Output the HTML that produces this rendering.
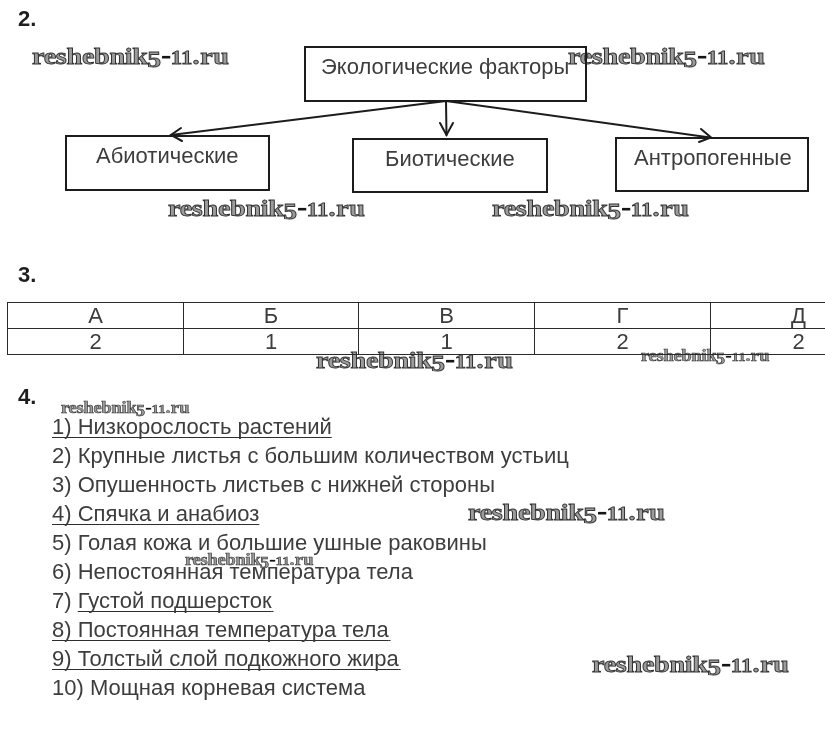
<!DOCTYPE html>
<html><head><meta charset="utf-8">
<style>
html,body{margin:0;padding:0;background:#fff;}
body{filter:grayscale(1);}
body{width:825px;height:748px;position:relative;overflow:hidden;font-family:"Liberation Sans",sans-serif;color:#3d3d3d;}
.a{position:absolute;white-space:nowrap;}
.lbl{font-weight:bold;font-size:22px;line-height:24px;color:#1e1e1e;}
.box{position:absolute;z-index:2;border:2px solid #1c1c1c;box-sizing:border-box;}
.bt{font-size:22px;line-height:24px;}
.wm{position:absolute;z-index:1;white-space:nowrap;font-family:"Liberation Serif",serif;font-weight:bold;color:#9c9c9c;-webkit-text-stroke:1px #333;line-height:30px;height:30px;font-size:27.5px;transform-origin:0 0;}
.wl{transform:scale(1.024,.86);}
.ws{transform:scale(.668,.59);}
.wm .r{letter-spacing:-0.3px;}
.wm .f{font-size:27px;position:relative;top:3.5px;margin-left:-0.5px;}
.wm .d{display:inline-block;width:8px;height:2.6px;background:#151515;vertical-align:6px;margin:0 0.5px 0 1px;}
.wm .o{font-size:22px;letter-spacing:0.3px;}
.wm .t{letter-spacing:0.5px;}
table{position:absolute;z-index:2;left:7px;top:302px;border-collapse:collapse;font-size:22px;table-layout:fixed;width:879px;}
td{border:1px solid #2a2a2a;width:175px;height:25px;padding:0;text-align:center;line-height:24px;}
.li{position:absolute;left:52px;font-size:22px;line-height:29px;white-space:nowrap;}
.u{text-decoration:underline;text-decoration-thickness:1.3px;text-underline-offset:3px;text-decoration-skip-ink:none;text-decoration-color:#2e2e2e;}
.u2::after{content:"\200A";}
</style></head><body>
<div class="a lbl" style="left:18px;top:7px">2.</div>

<div class="box" style="left:304px;top:46px;width:283px;height:56px"></div>
<div class="a bt" style="left:321px;top:54.5px">Экологические факторы</div>

<div class="box" style="left:65px;top:135px;width:205px;height:56px"></div>
<div class="a bt" style="left:96px;top:144px">Абиотические</div>
<div class="box" style="left:352px;top:138px;width:196px;height:55px"></div>
<div class="a bt" style="left:385px;top:147px">Биотические</div>
<div class="box" style="left:615px;top:137px;width:194px;height:55px"></div>
<div class="a bt" style="left:634px;top:146px">Антропогенные</div>

<svg class="a" style="left:0;top:0;z-index:2" width="825" height="250">
<g stroke="#1c1c1c" stroke-width="2" fill="none" stroke-linecap="round">
<line x1="446" y1="101" x2="171" y2="135"/>
<polyline points="181,128 171,135 182,141"/>
<line x1="446" y1="101" x2="446.5" y2="135"/>
<polyline points="440,123 446.5,135 453,123"/>
<line x1="446" y1="101" x2="710" y2="137.5"/>
<polyline points="701,129 711,137.5 699,142"/>
</g>
</svg>

<div class="a lbl" style="left:18px;top:263px">3.</div>
<table>
<colgroup><col style="width:176px"><col style="width:175px"><col style="width:176px"><col style="width:176px"><col style="width:176px"></colgroup>
<tr><td>А</td><td>Б</td><td>В</td><td>Г</td><td>Д</td></tr>
<tr><td>2</td><td>1</td><td>1</td><td>2</td><td>2</td></tr>
</table>

<div class="a lbl" style="left:18px;top:384.5px">4.</div>
<div class="li" style="top:411.5px"><span class="u">1) Низкорослость растений</span></div>
<div class="li" style="top:440.5px">2) Крупные листья с большим количеством устьиц</div>
<div class="li" style="top:469.5px">3) Опушенность листьев с нижней стороны</div>
<div class="li" style="top:498.5px"><span class="u">4) Спячка и анабиоз</span></div>
<div class="li" style="top:527.5px">5) Голая кожа и большие ушные раковины</div>
<div class="li" style="top:556.5px">6) Непостоянная температура тела</div>
<div class="li" style="top:585.5px">7) <span class="u u2">Густой подшерсток</span></div>
<div class="li" style="top:614.5px"><span class="u u2">8) Постоянная температура тела</span></div>
<div class="li" style="top:643.5px"><span class="u u2">9) Толстый слой подкожного жира</span></div>
<div class="li" style="top:672.5px">10) Мощная корневая система</div>

<div class="wm wl" style="left:32.1px;top:42.7px"><span class="r">reshebnik</span><span class="f">5</span><span class="d"></span><span class="o">11</span><span class="t">.ru</span></div>
<div class="wm wl" style="left:568.0px;top:42.9px"><span class="r">reshebnik</span><span class="f">5</span><span class="d"></span><span class="o">11</span><span class="t">.ru</span></div>
<div class="wm wl" style="left:168.0px;top:195.1px"><span class="r">reshebnik</span><span class="f">5</span><span class="d"></span><span class="o">11</span><span class="t">.ru</span></div>
<div class="wm wl" style="left:492.0px;top:195.4px"><span class="r">reshebnik</span><span class="f">5</span><span class="d"></span><span class="o">11</span><span class="t">.ru</span></div>
<div class="wm wl" style="left:316.0px;top:347.2px"><span class="r">reshebnik</span><span class="f">5</span><span class="d"></span><span class="o">11</span><span class="t">.ru</span></div>
<div class="wm ws" style="left:640.7px;top:347.0px"><span class="r">reshebnik</span><span class="f">5</span><span class="d"></span><span class="o">11</span><span class="t">.ru</span></div>
<div class="wm ws" style="left:60.7px;top:399.3px"><span class="r">reshebnik</span><span class="f">5</span><span class="d"></span><span class="o">11</span><span class="t">.ru</span></div>
<div class="wm wl" style="left:468.3px;top:499.1px"><span class="r">reshebnik</span><span class="f">5</span><span class="d"></span><span class="o">11</span><span class="t">.ru</span></div>
<div class="wm ws" style="left:184.7px;top:551.2px"><span class="r">reshebnik</span><span class="f">5</span><span class="d"></span><span class="o">11</span><span class="t">.ru</span></div>
<div class="wm wl" style="left:592.0px;top:650.9px"><span class="r">reshebnik</span><span class="f">5</span><span class="d"></span><span class="o">11</span><span class="t">.ru</span></div>
</body></html>
